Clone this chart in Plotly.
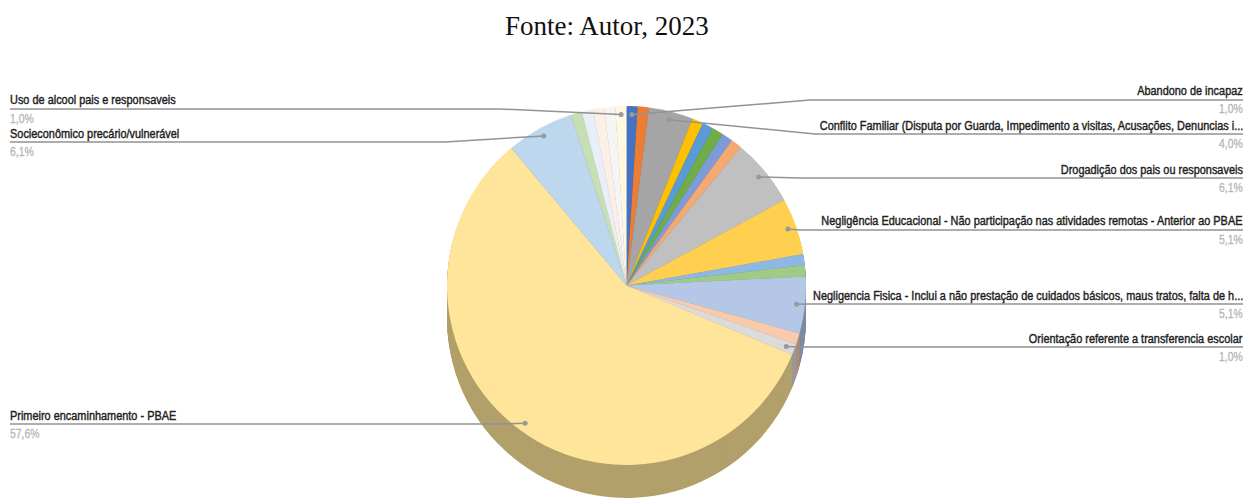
import math
import plotly.graph_objects as go

# Percentages per slice, clockwise from twelve o'clock
slice_values = [1.0, 1.0, 4.0, 1.0, 1.0, 1.0, 1.0, 1.0, 6.1, 5.1, 1.0, 1.0,
                5.1, 1.0, 1.0, 57.6, 6.1, 1.0, 1.0, 1.0, 1.0, 1.0]
slice_colors = ["#4472C4", "#ED7D31", "#A5A5A5", "#FFC000", "#5B9BD5", "#70AD47",
                "#7C9BD8", "#F4A971", "#C0C0C0", "#FFD04F", "#8DB8E3", "#A0CB86",
                "#B4C7E7", "#F8CBAD", "#DBDBDB", "#FFE599", "#BDD7EE", "#C6E0B4",
                "#E9EFF9", "#FBEFE6", "#F5F5F5", "#FFF7E0"]

# Captions: slice index, caption, stated value
labelled_slices = [0, 2, 8, 9, 12, 14, 15, 16, 21]
label_names = [
    "Abandono de incapaz",
    "Conflito Familiar (Disputa por Guarda, Impedimento a visitas, Acusações, Denuncias i...",
    "Drogadição dos pais ou responsaveis",
    "Negligência Educacional - Não participação nas atividades remotas - Anterior ao PBAE",
    "Negligencia Fisica - Inclui a não prestação de cuidados básicos, maus tratos, falta de h...",
    "Orientação referente a transferencia escolar",
    "Primeiro encaminhamento - PBAE",
    "Socieconômico precário/vulnerável",
    "Uso de alcool pais e responsaveis",
]
label_values = ["1,0%", "4,0%", "6,1%", "5,1%", "5,1%", "1,0%", "57,6%", "6,1%", "1,0%"]

# Caption placement in pixels: side, rule height, x where the rule turns horizontal
W, H = 1247, 500
label_side = ["r", "r", "r", "r", "r", "r", "l", "l", "l"]
label_rule_y = [100, 134, 178, 230, 304, 347, 424, 142, 109]
label_elbow_x = [810, 815, 800, 800, 810, 800, 500, 445, 500]

CX, CY, R = 626.5, 285.5, 179.5
DEPTH = 33
ANCHOR_R = 171
LEFT_X, RIGHT_X = 10, 1243


def px(x):
    return x / W


def py(y):
    return 1 - y / H


def darken(hex_color, k=0.7):
    r, g, b = (int(hex_color[i:i + 2], 16) for i in (1, 3, 5))
    return f"rgb({r * k:.0f},{g * k:.0f},{b * k:.0f})"


def pie(offset, colors):
    return go.Pie(
        values=slice_values,
        sort=False,
        direction="clockwise",
        rotation=0,
        textinfo="none",
        hoverinfo="skip",
        showlegend=False,
        marker=dict(colors=colors, line=dict(width=0)),
        domain=dict(x=[px(CX - R), px(CX + R)],
                    y=[py(CY + offset + R), py(CY + offset - R)]),
    )


fig = go.Figure()

# Side wall: darker copies of the pie stacked downward, then the top face
side_colors = [darken(c) for c in slice_colors]
for off in range(DEPTH, 0, -1):
    fig.add_trace(pie(off, side_colors))
fig.add_trace(pie(0, slice_colors))

shapes, annotations = [], []
total = sum(slice_values)
LABEL_FONT = "Liberation Sans"
for idx, name, val, side, rule_y, elbow in zip(
        labelled_slices, label_names, label_values, label_side, label_rule_y, label_elbow_x):
    # Leader starts at the middle of the slice's arc
    mid = (sum(slice_values[:idx]) + slice_values[idx] / 2) / total * 2 * math.pi
    ax = CX + ANCHOR_R * math.sin(mid)
    ay = CY - ANCHOR_R * math.cos(mid)
    end = RIGHT_X if side == "r" else LEFT_X
    path = (f"M {px(ax):.5f} {py(ay):.5f} L {px(elbow):.5f} {py(rule_y):.5f} "
            f"L {px(end):.5f} {py(rule_y):.5f}")
    shapes.append(dict(type="path", xref="paper", yref="paper", path=path,
                       line=dict(color="#939393", width=1.5)))
    shapes.append(dict(type="circle", xref="paper", yref="paper",
                       x0=px(ax - 2.5), x1=px(ax + 2.5), y0=py(ay + 2.5), y1=py(ay - 2.5),
                       fillcolor="#999999", line=dict(width=0)))
    anchor = "right" if side == "r" else "left"
    shift = 2 if side == "r" else -2
    annotations.append(dict(
        x=px(end), y=py(rule_y - 9), xref="paper", yref="paper", text=name,
        xanchor=anchor, yanchor="middle", showarrow=False, xshift=shift,
        font=dict(family=LABEL_FONT, size=13, color="#1f1f1f")))
    annotations.append(dict(
        x=px(end), y=py(rule_y + 9), xref="paper", yref="paper", text=val,
        xanchor=anchor, yanchor="middle", showarrow=False, xshift=shift,
        font=dict(family=LABEL_FONT, size=13, color="#b5b5b5")))

annotations.append(dict(
    x=px(606.5), y=py(26), xref="paper", yref="paper", text="Fonte: Autor, 2023",
    xanchor="center", yanchor="middle", showarrow=False,
    font=dict(family="Liberation Serif", size=27, color="#111111")))

fig.update_layout(
    width=W, height=H,
    margin=dict(l=0, r=0, t=0, b=0),
    paper_bgcolor="white", plot_bgcolor="white",
    shapes=shapes, annotations=annotations,
)

# Narrow the sans-serif captions horizontally, holding the edge next to the page margin
condense_captions = """
var page = document.querySelector('.js-plotly-plot').getBoundingClientRect();
document.querySelectorAll('.annotation-text').forEach(function (t) {
  if (t.style.fontFamily.indexOf('Serif') >= 0) return;
  var isValue = /%$/.test(t.textContent);
  var k = isValue ? 0.8 : 0.84;
  var b = t.getBBox();
  var onRight = t.getBoundingClientRect().left > page.width / 2;
  var edge = onRight ? b.x + b.width : b.x;
  t.setAttribute('transform', 'translate(' + edge + ',0) scale(' + k + ',1) translate(' + (-edge) + ',0)');
  t.style.stroke = isValue ? '#b5b5b5' : '#1f1f1f';
  t.style.strokeWidth = isValue ? '0.3px' : '0.45px';
});
"""
fig.write_html("out.html", config=dict(displayModeBar=False), post_script=condense_captions)
